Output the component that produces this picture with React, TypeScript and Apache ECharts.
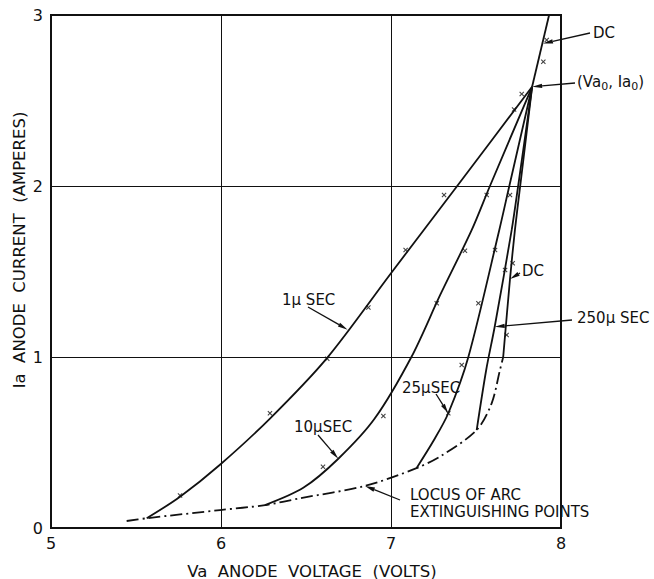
import React, { useEffect, useRef } from "react";
import * as echarts from "echarts";

// Axis ranges / ticks
const xTicks = [5, 6, 7, 8];
const yTicks = [0, 1, 2, 3];

// Curves (Va volts, Ia amperes)
const curve1us = [[5.563, 0.057], [5.759, 0.183], [5.994, 0.37], [6.288, 0.64], [6.622, 0.992], [7.0, 1.49], [7.386, 1.996], [7.83, 2.58]];
const curve10us = [[6.259, 0.134], [6.484, 0.235], [6.69, 0.405], [6.904, 0.64], [7.12, 1.0], [7.288, 1.36], [7.475, 1.743], [7.582, 2.0], [7.83, 2.58]];
const curve25us = [[7.15, 0.35], [7.25, 0.51], [7.337, 0.671], [7.455, 1.0], [7.637, 1.743], [7.696, 2.0], [7.83, 2.58]];
const curve250us = [[7.504, 0.573], [7.56, 0.924], [7.61, 1.177], [7.71, 1.743], [7.748, 2.0], [7.83, 2.58]];
const curveDCLower = [[7.66, 1.0], [7.7, 1.456], [7.729, 1.743], [7.76, 2.0], [7.83, 2.58]];
const curveDCUpper = [[7.83, 2.58], [7.93, 3.0]];
const locus = [[5.445, 0.041], [5.563, 0.057], [5.994, 0.105], [6.259, 0.134], [6.465, 0.174], [6.847, 0.246], [7.15, 0.35], [7.3, 0.425], [7.504, 0.573], [7.592, 0.729], [7.641, 0.924], [7.66, 1.0]];

// Measured points (x marks)
const measured = [
  [5.759, 0.19], [6.288, 0.671], [6.625, 0.99], [6.867, 1.29], [7.086, 1.626], [7.312, 1.947], [7.724, 2.448], [7.769, 2.538],
  [6.6, 0.358], [6.955, 0.655], [7.269, 1.314], [7.435, 1.622], [7.563, 1.947],
  [7.337, 0.671], [7.416, 0.953], [7.514, 1.314], [7.612, 1.626], [7.7, 1.947],
  [7.671, 1.509], [7.716, 1.548], [7.68, 1.129],
  [7.896, 2.727], [7.916, 2.854],
];

// Annotation texts and the curve points they point at
const labels = [
  { text: "1μ SEC", pos: [282, 300], from: [308, 307], tip: [6.745, 1.16] },
  { text: "10μSEC", pos: [294, 427], from: [318, 435], tip: [6.69, 0.405] },
  { text: "25μSEC", pos: [402, 388], from: [436, 394], tip: [7.337, 0.671] },
  { text: "LOCUS OF ARC\nEXTINGUISHING POINTS", pos: [410, 503], from: [400, 500], tip: [6.847, 0.246] },
  { text: "DC", pos: [593, 33], from: [590, 33], tip: [7.894, 2.833] },
  { text: "(Va{s|0}, Ia{s|0})", pos: [577, 82], from: [575, 83], tip: [7.83, 2.58] },
  { text: "DC", pos: [522, 271], from: [520, 273], tip: [7.7, 1.456] },
  { text: "250μ SEC", pos: [577, 318], from: [572, 320], tip: [7.61, 1.177] },
];

const FONT = "'DejaVu Sans', sans-serif";
const INK = "#111";
const XMARK = "path://M0,1.5L1.5,0L5,3.5L8.5,0L10,1.5L6.5,5L10,8.5L8.5,10L5,6.5L1.5,10L0,8.5L3.5,5Z";

function lineSeries(data: number[][], dashed = false, smooth: number = 0.3) {
  return {
    type: "line",
    data,
    showSymbol: false,
    smooth,
    lineStyle: { color: INK, width: 1.8, type: dashed ? [12, 4, 2, 4] : "solid" },
    silent: true,
    z: 3,
  };
}

export default function App() {
  const ref = useRef<HTMLDivElement>(null);
  useEffect(() => {
    document.body.style.margin = "0";
    const chart = echarts.init(ref.current!, undefined, { renderer: "svg" });
    chart.setOption({
      animation: false,
      backgroundColor: "#fff",
      grid: { left: 51, top: 15, width: 510, height: 513, show: true, borderColor: INK, borderWidth: 2, backgroundColor: "transparent" },
      xAxis: {
        type: "value", min: xTicks[0], max: xTicks[xTicks.length - 1], interval: 1,
        axisLine: { lineStyle: { color: INK, width: 2 } },
        axisTick: { show: false },
        splitLine: { show: true, lineStyle: { color: INK, width: 1 } },
        axisLabel: { color: INK, fontSize: 16, fontFamily: FONT, margin: 7 },
      },
      yAxis: {
        type: "value", min: yTicks[0], max: yTicks[yTicks.length - 1], interval: 1,
        axisLine: { lineStyle: { color: INK, width: 2 } },
        axisTick: { show: false },
        splitLine: { show: true, lineStyle: { color: INK, width: 1 } },
        axisLabel: { color: INK, fontSize: 16, fontFamily: FONT, margin: 8 },
      },
      series: [
        lineSeries(curve1us),
        lineSeries(curve10us),
        lineSeries(curve25us),
        lineSeries(curve250us),
        lineSeries(curveDCLower),
        lineSeries(curveDCUpper, false, 0),
        lineSeries(locus, true),
        { type: "scatter", data: measured, symbol: XMARK, symbolSize: 5, itemStyle: { color: INK }, silent: true, z: 4 },
      ],
    });

    const graphics: any[] = [];
    labels.forEach((l) => {
      const tip = chart.convertToPixel({ gridIndex: 0 }, l.tip) as number[];
      const [fx, fy] = l.from;
      const dx = tip[0] - fx, dy = tip[1] - fy;
      const len = Math.hypot(dx, dy) || 1;
      const ux = dx / len, uy = dy / len;
      const L = 10, W = 2.2;
      const bx = tip[0] - ux * L, by = tip[1] - uy * L;
      graphics.push({ type: "line", shape: { x1: fx, y1: fy, x2: bx, y2: by }, style: { stroke: INK, lineWidth: 1.3 }, silent: true });
      graphics.push({
        type: "polygon",
        shape: { points: [[tip[0], tip[1]], [bx - uy * W, by + ux * W], [bx + uy * W, by - ux * W]] },
        style: { fill: INK }, silent: true,
      });
      graphics.push({
        type: "text", x: l.pos[0], y: l.pos[1], silent: true,
        style: {
          text: l.text, fill: INK, fontSize: 15, fontFamily: FONT,
          verticalAlign: "middle", align: "left", lineHeight: 17,
          rich: { s: { fontSize: 11, fontFamily: FONT, fill: INK, padding: [8, 0, 0, 0] } },
        },
      });
    });
    graphics.push({
      type: "text", x: 312, y: 571, silent: true,
      style: { text: "Va  ANODE  VOLTAGE  (VOLTS)", fill: INK, fontSize: 16.5, fontFamily: FONT, align: "center", verticalAlign: "middle" },
    });
    graphics.push({
      type: "text", x: 19, y: 250, rotation: Math.PI / 2, silent: true,
      style: { text: "Ia  ANODE  CURRENT  (AMPERES)", fill: INK, fontSize: 16.5, fontFamily: FONT, align: "center", verticalAlign: "middle" },
    });
    chart.setOption({ graphic: graphics });

    return () => chart.dispose();
  }, []);
  return <div ref={ref} style={{ width: 654, height: 579 }} />;
}
